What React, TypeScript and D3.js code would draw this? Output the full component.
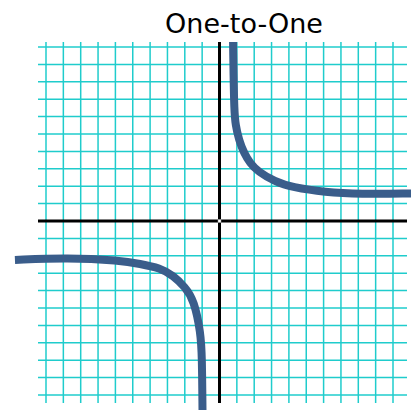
import React from "react";
import * as d3 from "d3";

const W = 411;
const H = 416;
const TITLE = "One-to-One";
const GRID_TICKS = d3.range(-10, 11, 1);

// upper-right branch (x, y)
const UPPER_X = [0.78, 0.81, 0.85, 0.92, 1.12, 1.41, 1.76, 2.22, 3.2, 4.18, 6.08, 8.1, 10.98, 11.27];
const UPPER_Y = [10.29, 8.39, 6.38, 5.52, 4.66, 3.91, 3.33, 2.84, 2.26, 1.94, 1.65, 1.55, 1.58, 1.59];
// lower-left branch
const LOWER_X = [-11.79, -8.79, -5.73, -4.58, -3.43, -2.66, -1.99, -1.47, -1.08, -1.01, -0.98];
const LOWER_Y = [-2.24, -2.11, -2.27, -2.46, -2.7, -3.14, -3.79, -4.54, -6.44, -7.82, -10.86];

export default function App() {
  const x = d3.scaleLinear().domain([-10, 10]).range([46, 393]);
  const y = d3.scaleLinear().domain([-10, 10]).range([395, 47]);
  const line = d3
    .line<[number, number]>()
    .x((d) => x(d[0]))
    .y((d) => y(d[1]))
    .curve(d3.curveBasis);
  const upper = UPPER_X.map((v, i) => [v, UPPER_Y[i]] as [number, number]);
  const lower = LOWER_X.map((v, i) => [v, LOWER_Y[i]] as [number, number]);
  const gx0 = x(-10) - 8;
  const gx1 = x(10) + 14;
  const gy0 = y(10) - 5;
  const gy1 = y(-10) + 8;
  const gridColor = "#1fcccc";
  return (
    <svg
      width={W}
      height={H}
      style={{ position: "absolute", left: 0, top: 0, background: "#fff" }}
    >
      <text
        x={244}
        y={33}
        textAnchor="middle"
        fontFamily="'Comic Sans MS', 'DejaVu Sans', sans-serif"
        fontSize={27}
        fill="#000"
      >
        {TITLE}
      </text>
      <g>
        {GRID_TICKS.map((t) => (
          <line
            key={"v" + t}
            x1={x(t)}
            x2={x(t)}
            y1={gy0}
            y2={gy1}
            stroke={gridColor}
            strokeWidth={1.5}
          />
        ))}
        {GRID_TICKS.map((t) => (
          <line
            key={"h" + t}
            x1={gx0}
            x2={gx1}
            y1={y(t)}
            y2={y(t)}
            stroke={gridColor}
            strokeWidth={1.5}
          />
        ))}
      </g>
      <line x1={gx0} x2={gx1} y1={y(0)} y2={y(0)} stroke="#000" strokeWidth={3} />
      <line x1={x(0)} x2={x(0)} y1={gy0} y2={gy1} stroke="#000" strokeWidth={3} />
      <rect
        x={x(0) - 1.5}
        y={y(0) - 1.5}
        width={3}
        height={3}
        fill="#fff"
        stroke="#999"
        strokeWidth={0.5}
      />
      <path d={line(upper) || ""} fill="none" stroke="#3a5d8b" strokeWidth={8} />
      <path d={line(lower) || ""} fill="none" stroke="#3a5d8b" strokeWidth={8} />
    </svg>
  );
}
